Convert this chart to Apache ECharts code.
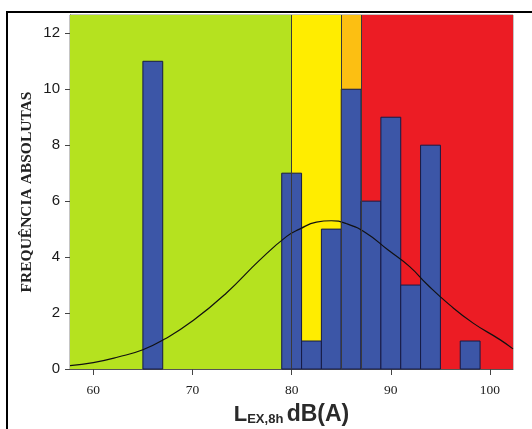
<!DOCTYPE html>
<html>
<head>
<meta charset="utf-8">
<script src="https://cdn.jsdelivr.net/npm/echarts@6/dist/echarts.min.js"></script>
<style>html,body{margin:0;padding:0;background:#fff;}#c{width:532px;height:429px;}</style>
</head>
<body>
<div id="c"></div>
<script>
// Histogram bins (lower edge, dB(A)) and absolute frequencies
const binStart = [65, 79, 81, 83, 85, 87, 89, 91, 93, 97];
const binWidth = 2;
const counts   = [11, 7, 1, 5, 10, 6, 9, 3, 8, 1];

// Fitted normal curve
const curveX = [57.65, 60, 62.5, 65.0, 67.2, 70.1, 73.4, 76.8, 79.5, 80.8, 82.5, 84.0, 85.5, 87.5, 89.7, 91.9, 93.7, 95.9, 98.3, 101.0, 102.32];
const curveY = [0.12, 0.23, 0.43, 0.69, 1.07, 1.74, 2.71, 3.90, 4.74, 5.00, 5.25, 5.30, 5.20, 4.86, 4.26, 3.66, 3.01, 2.30, 1.64, 1.05, 0.72];

// Risk zones (x ranges)
const zoneNames = ['green', 'yellow', 'orange', 'red'];
const zoneFrom  = ['min', 80, 85, 87];
const zoneTo    = [80, 85, 87, 'max'];
const zoneColors = ['#b5e21f', '#ffed00', '#fcbf12', '#ec1c24'];
const zoneLines = [80, 85, 87];

// Axis ticks
const xTicks = [60, 70, 80, 90, 100];
const yTicks = [0, 2, 4, 6, 8, 10, 12];

const chart = echarts.init(document.getElementById('c'), null, {renderer: 'canvas'});

const histData = binStart.map((s, i) => [s, s + binWidth, counts[i]]);
const curveData = curveX.map((x, i) => [x, curveY[i]]);

chart.setOption({
  animation: false,
  backgroundColor: '#fff',
  grid: {left: 70, right: 19, top: 15, bottom: 60, containLabel: false, outerBoundsMode: 'none', show: true, borderColor: '#8a8a8a', borderWidth: 1, backgroundColor: 'transparent'},
  xAxis: {
    type: 'value', min: 57.65, max: 102.32,
    name: '{L|L}{s|EX,8h} {d|dB(A)}',
    nameLocation: 'middle', nameGap: 34, nameMoveOverlap: false,
    nameTextStyle: {
      rich: {
        L: {fontFamily: 'Liberation Sans', fontWeight: 'bold', fontSize: 22, color: '#2a2a2a'},
        s: {fontFamily: 'Liberation Sans', fontWeight: 'bold', fontSize: 13, color: '#2a2a2a', verticalAlign: 'bottom'},
        d: {fontFamily: 'Liberation Sans', fontWeight: 'bold', fontSize: 23, color: '#2a2a2a'}
      }
    },
    axisLine: {show: true, onZero: false, lineStyle: {color: '#555', width: 1}},
    axisTick: {show: true, customValues: xTicks, length: 6, lineStyle: {color: '#444'}},
    axisLabel: {customValues: xTicks, fontFamily: 'Liberation Serif', fontSize: 13.5, color: '#222', margin: 14},
    splitLine: {show: false}
  },
  yAxis: {
    type: 'value', min: 0, max: 12.654,
    name: 'FREQUÊNCIA ABSOLUTAS',
    nameLocation: 'middle', nameGap: 35, nameMoveOverlap: false,
    nameTextStyle: {fontFamily: 'Liberation Serif', fontWeight: 'bold', fontSize: 15.5, color: '#222'},
    axisLine: {show: true, lineStyle: {color: '#555', width: 1}},
    axisTick: {show: true, customValues: yTicks, length: 5, lineStyle: {color: '#444'}},
    axisLabel: {customValues: yTicks, fontFamily: 'Liberation Sans', fontSize: 15, color: '#1a1a1a', margin: 10},
    splitLine: {show: false}
  },
  graphic: [{
    type: 'polyline', silent: true, z: 100,
    shape: {points: [[7, 429], [7, 12], [532, 12]]},
    style: {stroke: '#000', lineWidth: 2, fill: null}
  }],
  series: [
    {
      type: 'line', data: [], silent: true, z: 1,
      markArea: {
        silent: true,
        data: zoneNames.map((n, i) => [
          {xAxis: zoneFrom[i], itemStyle: {color: zoneColors[i]}},
          {xAxis: zoneTo[i]}
        ])
      }
    },
    {
      type: 'custom', z: 2, silent: true,
      data: histData,
      encode: {x: [0, 1], y: 2},
      renderItem: function (params, api) {
        const p0 = api.coord([api.value(0), api.value(2)]);
        const p1 = api.coord([api.value(1), 0]);
        return {
          type: 'rect',
          shape: {x: p0[0], y: p0[1], width: p1[0] - p0[0], height: p1[1] - p0[1]},
          style: {fill: '#3c56a7', stroke: '#161b45', lineWidth: 1}
        };
      }
    },
    {
      type: 'line', data: [], silent: true, z: 3,
      markLine: {
        silent: true, symbol: 'none', label: {show: false},
        lineStyle: {color: '#3a3a3a', width: 1, type: 'solid'},
        data: zoneLines.map(v => ({xAxis: v}))
      }
    },
    {
      type: 'line', z: 4, silent: true,
      data: curveData, smooth: true, showSymbol: false, symbol: 'none',
      lineStyle: {color: '#111', width: 1.2}
    }
  ]
});
</script>
</body>
</html>
